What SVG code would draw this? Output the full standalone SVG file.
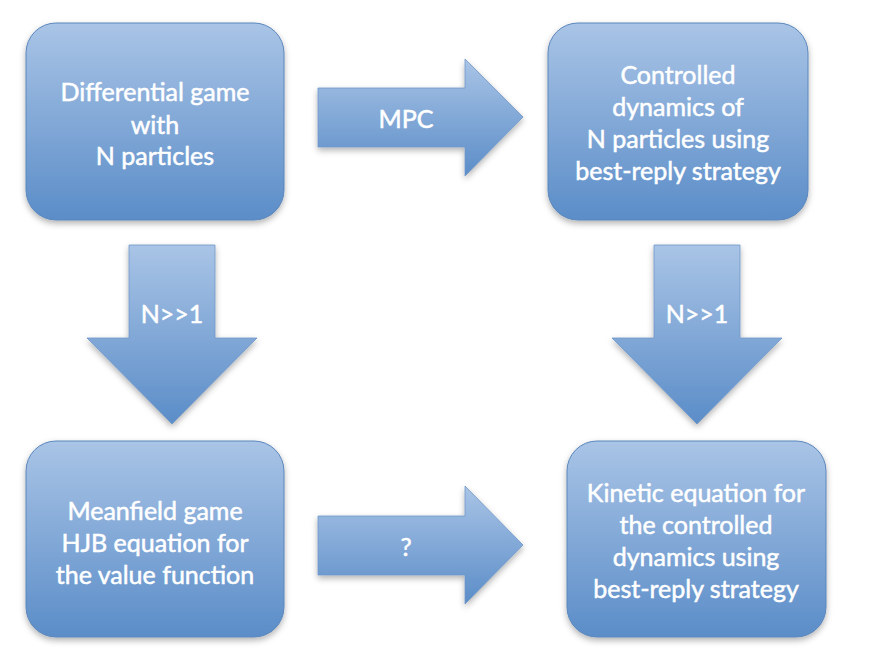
<svg xmlns="http://www.w3.org/2000/svg" width="869" height="660" viewBox="0 0 869 660">
<defs>
<linearGradient id="g" x1="0" y1="0" x2="0" y2="1">
<stop offset="0" stop-color="#a9c4e6"/>
<stop offset="1" stop-color="#5b8dc8"/>
</linearGradient>
<filter id="sh" x="-10%" y="-10%" width="120%" height="125%">
<feDropShadow dx="0" dy="3" stdDeviation="3" flood-color="#000" flood-opacity="0.3"/>
</filter>
</defs>
<style>
.box{fill:url(#g);stroke:#5a86bb;stroke-width:1;filter:url(#sh)}
.arr{fill:url(#g);stroke:#6f97c8;stroke-width:0.8;filter:url(#sh)}
text{font-family:Lato,"Liberation Sans",Arial,sans-serif;font-size:25px;fill:#ffffff;stroke:#ffffff;stroke-width:0.5;text-anchor:middle}
</style>
<rect width="869" height="660" fill="#ffffff"/>
<g id="connectors">
<g id="arrow-mpc">
<path class="arr" d="M318,88 L465,88 L465,59 L523,117 L465,176 L465,147 L318,147 Z"/>
<text x="406" y="128">MPC</text>
</g>
<g id="arrow-left-down">
<path class="arr" d="M129,245 L215,245 L215,338 L257,338 L172,424 L87,338 L129,338 Z"/>
<text x="172" y="323">N&gt;&gt;1</text>
</g>
<g id="arrow-right-down">
<path class="arr" d="M654,245 L740,245 L740,338 L782,338 L697,424 L612,338 L654,338 Z"/>
<text x="697" y="323">N&gt;&gt;1</text>
</g>
<g id="arrow-question">
<path class="arr" d="M318,516 L465,516 L465,486 L523,545 L465,604 L465,575 L318,575 Z"/>
<text x="406" y="556">?</text>
</g>
</g>
<g id="node-differential-game">
<rect class="box" x="26" y="23" width="258" height="197" rx="30"/>
<text x="155" y="101">Differential game</text>
<text x="155" y="134">with</text>
<text x="155" y="165">N particles</text>
</g>
<g id="node-controlled-dynamics">
<rect class="box" x="548" y="23" width="260" height="197" rx="30"/>
<text x="678" y="84">Controlled</text>
<text x="678" y="116">dynamics of</text>
<text x="678" y="148">N particles using</text>
<text x="678" y="180">best-reply strategy</text>
</g>
<g id="node-meanfield-game">
<rect class="box" x="26" y="441" width="258" height="196" rx="30"/>
<text x="155" y="520">Meanfield game</text>
<text x="155" y="552">HJB equation for</text>
<text x="155" y="584">the value function</text>
</g>
<g id="node-kinetic-equation">
<rect class="box" x="567" y="441" width="259" height="196" rx="30"/>
<text x="696" y="502">Kinetic equation for</text>
<text x="696" y="534">the controlled</text>
<text x="696" y="566">dynamics using</text>
<text x="696" y="598">best-reply strategy</text>
</g>
</svg>
